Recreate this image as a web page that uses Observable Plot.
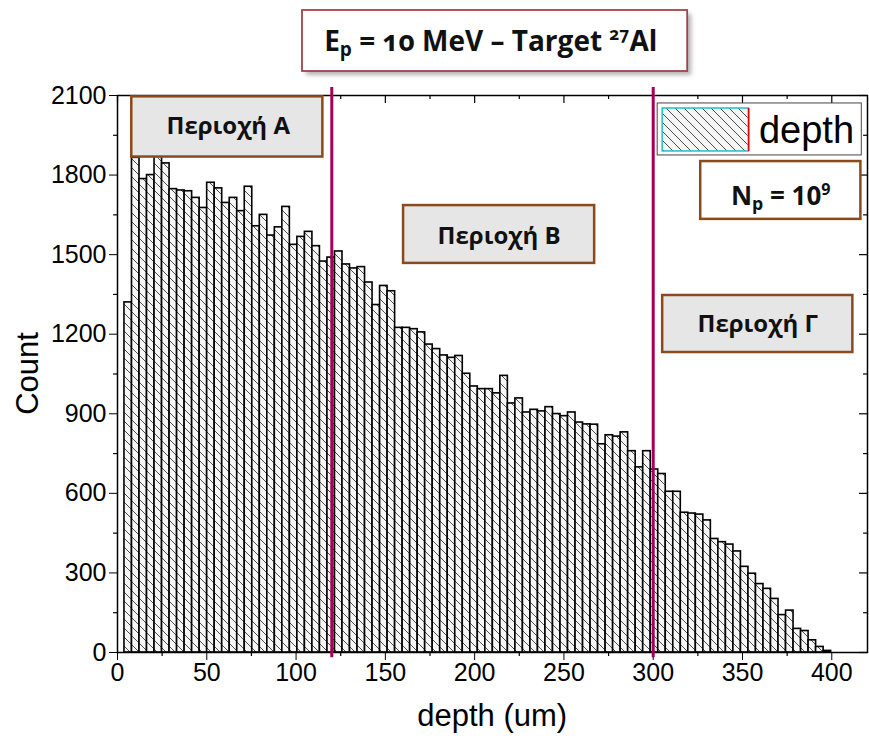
<!DOCTYPE html>
<html>
<head>
<meta charset="utf-8">
<script src="https://cdn.jsdelivr.net/npm/d3@7"></script>
<script src="https://cdn.jsdelivr.net/npm/@observablehq/plot@0.6"></script>
<style>
  body { margin: 0; background: #fff; }
  #chart svg { display: block; }
</style>
</head>
<body>
<div id="chart"></div>
<script>
// Stopping depth of 10 MeV protons in an 27Al target (histogram of depth, um)
const binStart = 3.9;   // left edge of the first bin (um)
const binWidth = 4.21;  // bin width (um)
const counts = [
  1320, 1865, 1785, 1800, 1869, 1844, 1747, 1742, 1739, 1714,
  1676, 1771, 1750, 1695, 1714, 1664, 1756, 1607, 1650, 1572,
  1603, 1680, 1537, 1567, 1586, 1532, 1474, 1489, 1512, 1463,
  1448, 1453, 1395, 1310, 1382, 1362, 1224, 1224, 1219, 1207,
  1161, 1144, 1120, 1111, 1118, 1051, 1003,  993,  993,  977,
  1043,  939,  958,  905,  915,  909,  925,  899,  891,  905,
   867,  860,  859,  785,  819,  814,  830,  759,  698,  759,
   690,  673,  606,  606,  527,  524,  520,  498,  428,  416,
   407,  381,  323,  297,  258,  240,  202,  141,  158,   89,
    81,   46,   21,    6
];
const xTicks = [0, 50, 100, 150, 200, 250, 300, 350, 400];
const xMinorTicks = [25, 75, 125, 175, 225, 275, 325, 375];
const yTicks = [0, 300, 600, 900, 1200, 1500, 1800, 2100];
const yMinorTicks = [150, 450, 750, 1050, 1350, 1650, 1950];
const regionBounds = [120, 300];                 // um
const regionNames = ["Περιοχή Α", "Περιοχή Β", "Περιοχή Γ"];
const titleText = "Ep = 10 MeV – Target 27Al";
const protonsText = "Np = 109";
const seriesName = "depth";
const xLabel = "depth (um)";
const yLabel = "Count";

const bins = counts.map((count, i) => ({
  x1: binStart + i * binWidth,
  x2: binStart + (i + 1) * binWidth,
  count
}));

const boldFont = "'Open Sans', 'Noto Sans', sans-serif";
const brown = "#8a4a1c";
const magenta = "#a4005b";

const chart = Plot.plot({
  width: 869,
  height: 740,
  marginLeft: 117,
  marginRight: 2,
  marginTop: 95,
  marginBottom: 88,
  style: {fontFamily: "'Liberation Sans', Arial, sans-serif", fontSize: "25px", color: "black", background: "white"},
  x: {domain: [0, 420], ticks: xTicks, tickSize: 8, tickPadding: 3, tickFormat: d3.format("d"), label: null},
  y: {domain: [0, 2100], ticks: yTicks, tickSize: 8, tickPadding: 3, tickFormat: d3.format("d"), label: null},
  marks: [
    // histogram bars
    Plot.rectY(bins, {x1: "x1", x2: "x2", y: "count", fill: "url(#hatch)", stroke: "black", strokeWidth: 1.6}),
    Plot.frame({stroke: "black", strokeWidth: 1.5}),
    // minor ticks and mirrored ticks on the top and right edges
    Plot.ruleX(xMinorTicks, {y1: 0, y2: -15, stroke: "black", strokeWidth: 1.2}),
    Plot.ruleX(xTicks, {y1: 2100, y2: 2070, stroke: "black", strokeWidth: 1.2}),
    Plot.ruleX(xMinorTicks, {y1: 2100, y2: 2085, stroke: "black", strokeWidth: 1.2}),
    Plot.ruleY(yMinorTicks, {x1: 0, x2: -2.2, stroke: "black", strokeWidth: 1.2}),
    Plot.ruleY(yTicks, {x1: 420, x2: 415.5, stroke: "black", strokeWidth: 1.2}),
    Plot.ruleY(yMinorTicks, {x1: 420, x2: 417.8, stroke: "black", strokeWidth: 1.2}),
    // region boundaries
    Plot.ruleX(regionBounds, {y1: -20, y2: 2130, stroke: magenta, strokeWidth: 3}),
    // region labels
    Plot.rect([0], {x1: 8, x2: 115, y1: 1868, y2: 2095, fill: "#e6e6e6", stroke: brown, strokeWidth: 2.5}),
    Plot.rect([0], {x1: 160.2, x2: 267.2, y1: 1467, y2: 1685, fill: "#e6e6e6", stroke: brown, strokeWidth: 2.5}),
    Plot.rect([0], {x1: 305.3, x2: 411.8, y1: 1131, y2: 1346, fill: "#e6e6e6", stroke: brown, strokeWidth: 2.5}),
    Plot.text([regionNames[0]], {x: 62, y: 1982, fontFamily: boldFont, fontWeight: "bold", fontSize: 24, fill: "#111"}),
    Plot.text([regionNames[1]], {x: 213.7, y: 1568, fontFamily: boldFont, fontWeight: "bold", fontSize: 24, fill: "#111"}),
    Plot.text([regionNames[2]], {x: 358.5, y: 1237, fontFamily: boldFont, fontWeight: "bold", fontSize: 24, fill: "#111"}),
    // legend
    Plot.rect([0], {x1: 302.5, x2: 416.8, y1: 1874, y2: 2070, fill: "white", stroke: "#444", strokeWidth: 1}),
    Plot.rect([0], {x1: 305.3, x2: 353.5, y1: 1889, y2: 2051, fill: "url(#hatch)", stroke: "#19c3c8", strokeWidth: 1.5}),
    Plot.ruleX([353.5], {y1: 1889, y2: 2051, stroke: "#e00000", strokeWidth: 1.5}),
    Plot.text([seriesName], {x: 359.2, y: 1965, textAnchor: "start", fontSize: 38, fill: "black"}),
    // number of simulated protons
    Plot.rect([0], {x1: 326.6, x2: 416.3, y1: 1633, y2: 1851, fill: "white", stroke: brown, strokeWidth: 2.5}),
    Plot.text([protonsText], {x: 371.4, y: 1719, fontFamily: boldFont, fontWeight: "bold", fontSize: 26, fill: "#111", ariaDescription: "protons"}),
    // title box with drop shadow
    Plot.rect([0], {x1: 103.6, x2: 319.3, y1: 2190.5, y2: 2420.5, dx: 4, dy: 4, fill: "#777", fillOpacity: 0.55, ariaDescription: "shadow"}),
    Plot.rect([0], {x1: 103.6, x2: 319.3, y1: 2190.5, y2: 2420.5, fill: "white", stroke: "#a0444a", strokeWidth: 1.8}),
    Plot.text([titleText], {x: 209, y: 2303, fontFamily: boldFont, fontWeight: "bold", fontSize: 28, fill: "#111", ariaDescription: "title"}),
    // axis titles
    Plot.text([xLabel], {x: 209.8, y: -241, fontSize: 31}),
    Plot.text([yLabel], {x: -50, y: 1052, rotate: -90, fontSize: 31})
  ]
});

document.getElementById("chart").appendChild(chart);

// hatch pattern used by the bars and the legend swatch
const svg = d3.select(chart);
const defs = svg.insert("defs", ":first-child");
defs.append("filter").attr("id", "soft").attr("x", "-10%").attr("y", "-10%").attr("width", "130%").attr("height", "140%")
  .append("feGaussianBlur").attr("stdDeviation", 2);
const pat = defs.append("pattern").attr("id", "hatch").attr("patternUnits", "userSpaceOnUse")
  .attr("width", 9).attr("height", 9);
pat.append("rect").attr("width", 9).attr("height", 9).attr("fill", "#f6f6f6");
pat.append("path").attr("d", "M-1,-1L10,10M-1,8L1,10M8,-1L10,1")
  .attr("stroke", "#3a3a3a").attr("stroke-width", 0.9).attr("fill", "none");

svg.selectAll("g[aria-description=shadow] rect").attr("filter", "url(#soft)");

// subscripts and superscripts in the title and in N_p
function richText(selector, parts) {
  const t = svg.select(selector);
  t.text(null);
  for (const [s, kind] of parts) {
    const ts = t.append("tspan").text(s);
    if (kind === "sub") ts.attr("font-size", "68%").attr("dy", "0.28em");
    if (kind === "subEnd") ts.attr("dy", "-0.19em");
    if (kind === "sup") ts.attr("font-size", "62%").attr("dy", "-0.62em");
    if (kind === "supEnd") ts.attr("dy", "0.385em");
  }
}
richText("g[aria-description=title] text", [
  ["E"], ["p", "sub"], [" = 10 MeV – Target ", "subEnd"], ["27", "sup"], ["Al", "supEnd"]
]);
svg.select("g[aria-description=title] text").style("font-variant-numeric", "oldstyle-nums");
richText("g[aria-description=protons] text", [
  ["N"], ["p", "sub"], [" = 10", "subEnd"], ["9", "sup"]
]);
</script>
</body>
</html>
